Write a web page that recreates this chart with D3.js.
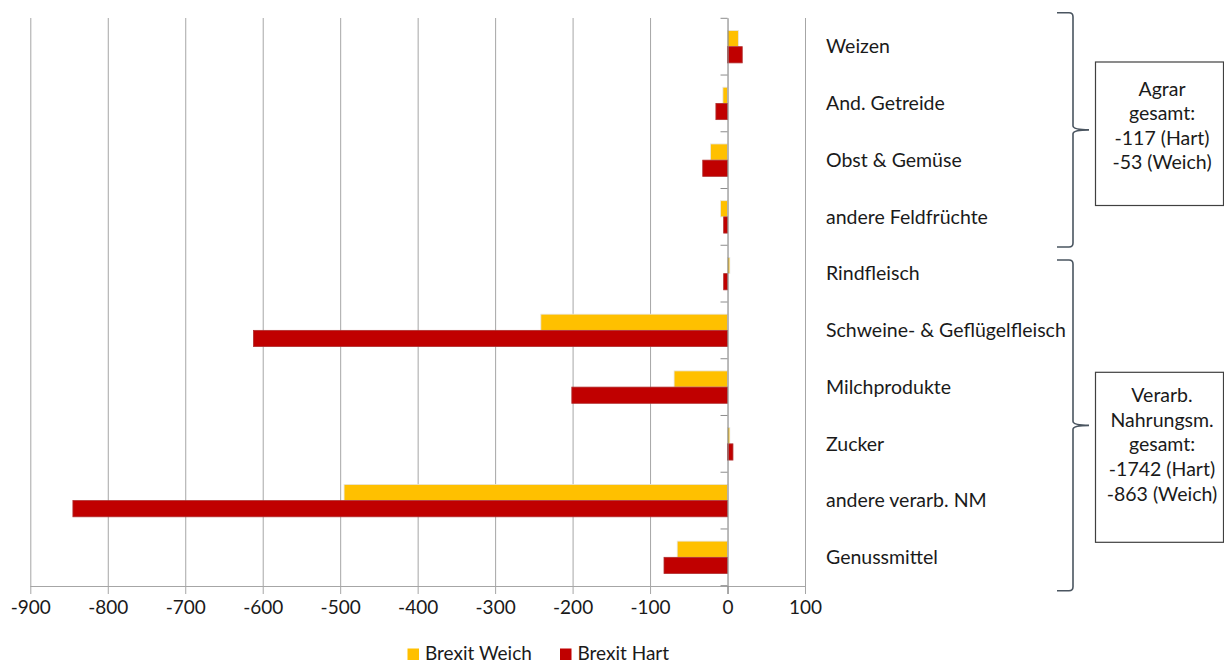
<!DOCTYPE html>
<html><head><meta charset="utf-8">
<script src="https://cdn.jsdelivr.net/npm/d3@7"></script>
<style>
body{margin:0;background:#fff;}
svg text{font-family:Lato,"Open Sans",sans-serif;fill:#1a1a1a;}
</style></head>
<body>
<svg id="chart" width="1224" height="664"></svg>
<script>
const categories = ["Weizen","And. Getreide","Obst & Gemüse","andere Feldfrüchte","Rindfleisch","Schweine- & Geflügelfleisch","Milchprodukte","Zucker","andere verarb. NM","Genussmittel"];
const seriesNames = ["Brexit Weich","Brexit Hart"];
const weich = [14,-6,-22,-9,3,-241,-69,3,-495,-65];
const hart  = [19,-15,-32,-5,-5,-612,-201,7,-845,-82];
const xTicks = [-900,-800,-700,-600,-500,-400,-300,-200,-100,0,100];
const colors = ["#FFC000","#C00000"];
const groups = [
  {from:0,to:3,lines:["Agrar","gesamt:","-117 (Hart)","-53 (Weich)"]},
  {from:4,to:9,lines:["Verarb.","Nahrungsm.","gesamt:","-1742 (Hart)","-863 (Weich)"]}
];

const svg = d3.select("#chart");
const x = d3.scaleLinear().domain([-900,100]).range([30.3,805]);
const y0 = d3.scaleBand().domain(categories).range([18.3,585.7]);
const y1 = d3.scaleBand().domain(seriesNames).range([0,y0.bandwidth()]).paddingOuter(0.75).paddingInner(0);
const data = categories.map((c,i)=>({cat:c, vals:[weich[i],hart[i]]}));

// gridlines
svg.append("g").selectAll("line").data(xTicks.filter(t=>t!==0)).join("line")
  .attr("x1",d=>x(d)+0.5).attr("x2",d=>x(d)+0.5)
  .attr("y1",18).attr("y2",586).attr("stroke","#a6a6a6").attr("stroke-width",1);

// bars
const g = svg.append("g").selectAll("g").data(data).join("g")
  .attr("transform",d=>`translate(0,${y0(d.cat)})`);
g.selectAll("rect").data(d=>d.vals.map((v,j)=>({v,j}))).join("rect")
  .attr("x",d=>x(Math.min(0,d.v)))
  .attr("width",d=>Math.abs(x(d.v)-x(0)))
  .attr("y",d=>y1(seriesNames[d.j]))
  .attr("height",y1.bandwidth())
  .attr("fill",d=>colors[d.j])
  .attr("stroke",d=>d.j===0?"#e6e6e6":"#b03030").attr("stroke-width",0.8);

// x axis
const xAxis = d3.axisBottom(x).tickValues(xTicks).tickSize(8).tickPadding(7).tickFormat(d3.format("d"));
const ax = svg.append("g").attr("transform","translate(0,586)").call(xAxis);
ax.select(".domain").attr("stroke","#a6a6a6").attr("d","M30.3,0.5H805");
ax.selectAll(".tick line").attr("stroke","#a6a6a6");
ax.selectAll(".tick text").style("font-size","19px").style("font-family","Lato").attr("fill","#1a1a1a");
ax.selectAll(".tick text").text(d=>d<0?"-"+Math.abs(d):d);

// y axis at zero
const bounds = categories.map(c=>y0(c)).concat([y0.range()[1]]);
svg.append("line").attr("x1",x(0)+0.5).attr("x2",x(0)+0.5).attr("y1",18.3).attr("y2",594)
  .attr("stroke","#8c8c8c").attr("stroke-width",1.2);
svg.append("g").selectAll("line").data(bounds).join("line")
  .attr("x1",x(0)-7).attr("x2",x(0)).attr("y1",d=>d).attr("y2",d=>d)
  .attr("stroke","#8c8c8c").attr("stroke-width",1);

// category labels
svg.append("g").selectAll("text").data(categories).join("text")
  .attr("x",826).attr("y",d=>y0(d)+y0.bandwidth()/2)
  .attr("dy","0.35em").style("font-size","19.5px").text(d=>d);

// braces + boxes
const braceTop = [12.7, 260];
const braceBot = [247, 590.7];
groups.forEach((gr,k)=>{
  const top = braceTop[k];
  const bot = braceBot[k];
  const mid = (top+bot)/2;
  const xl = 1057, xv = 1073, xt = 1089, r=4;
  const path = `M${xl},${top} H${xv-r} Q${xv},${top} ${xv},${top+r} V${mid-r} Q${xv},${mid} ${xt},${mid} Q${xv},${mid} ${xv},${mid+r} V${bot-r} Q${xv},${bot} ${xv-r},${bot} H${xl}`;
  svg.append("path").attr("d",path).attr("fill","none").attr("stroke","#4a5560").attr("stroke-width",1.6);
  const lh = k===0?24.5:24.8;
  const bh = k===0?143.5:170;
  const by = k===0?62:372.3;
  svg.append("rect").attr("x",1095.5).attr("y",by).attr("width",128).attr("height",bh)
    .attr("fill","#fff").attr("stroke","#404040").attr("stroke-width",1.2);
  const ty0 = k===0?89:395;
  svg.append("g").selectAll("text").data(gr.lines).join("text")
    .attr("x",1162).attr("y",(d,i)=>ty0+i*lh).attr("dy","0.35em")
    .attr("text-anchor","middle").style("font-size","19.5px").text(d=>d);
});

// legend
const lg = svg.append("g").attr("transform","translate(407.5,648)");
const lx = [0,152.5];
seriesNames.forEach((s,i)=>{
  lg.append("rect").attr("x",lx[i]).attr("y",0.5).attr("width",11.5).attr("height",11.5).attr("fill",colors[i]);
  lg.append("text").attr("x",lx[i]+17.5).attr("y",5.5).attr("dy","0.35em").style("font-size","19px").text(s);
});
</script>
</body></html>
